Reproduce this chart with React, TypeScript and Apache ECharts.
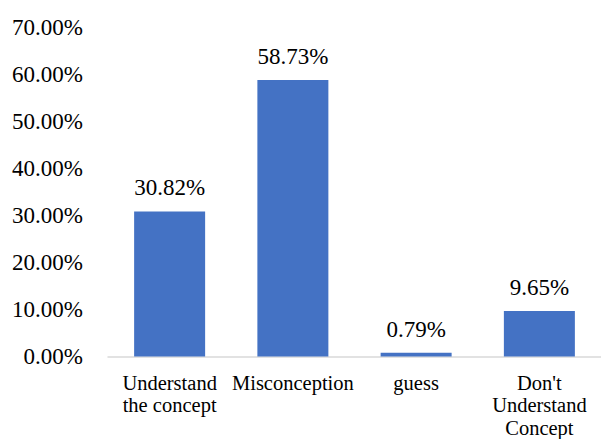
import React, { useEffect, useRef } from "react";
import * as echarts from "echarts";

const categories = ["Understand\nthe concept", "Misconception", "guess", "Don't\nUnderstand\nConcept"];
const values = [30.82, 58.73, 0.79, 9.65];
const yTicks = { min: 0, max: 70, interval: 10 };

const FONT = "'Liberation Serif', 'DejaVu Serif', serif";

export default function App() {
  const ref = useRef<HTMLDivElement>(null);
  useEffect(() => {
    if (!ref.current) return;
    const chart = echarts.init(ref.current, null, { renderer: "svg" });
    chart.setOption({
      animation: false,
      textStyle: { fontFamily: FONT },
      grid: { left: 108, right: -4, top: 27, bottom: 79, containLabel: false },
      xAxis: {
        type: "category",
        data: categories,
        axisLine: { lineStyle: { color: "#d9d9d9", width: 1.5 } },
        axisTick: { show: false },
        axisLabel: {
          interval: 0,
          color: "#000",
          fontFamily: FONT,
          fontSize: 20.5,
          lineHeight: 22.5,
          margin: 15,
        },
      },
      yAxis: {
        type: "value",
        min: yTicks.min,
        max: yTicks.max,
        interval: yTicks.interval,
        splitLine: { show: false },
        axisLine: { show: false },
        axisTick: { show: false },
        axisLabel: {
          color: "#000",
          fontFamily: FONT,
          fontSize: 23,
          margin: 25,
          formatter: (v: number) => v.toFixed(2) + "%",
        },
      },
      series: [
        {
          type: "bar",
          data: values,
          barWidth: 71,
          itemStyle: { color: "#4472C4" },
          label: {
            show: true,
            position: "top",
            distance: 12,
            color: "#000",
            fontFamily: FONT,
            fontSize: 23,
            formatter: (p: any) => p.value.toFixed(2) + "%",
          },
        },
      ],
    });
    return () => chart.dispose();
  }, []);
  return (
    <div
      ref={ref}
      style={{ position: "fixed", left: 0, top: 0, width: 601, height: 439, background: "#fff" }}
    />
  );
}
